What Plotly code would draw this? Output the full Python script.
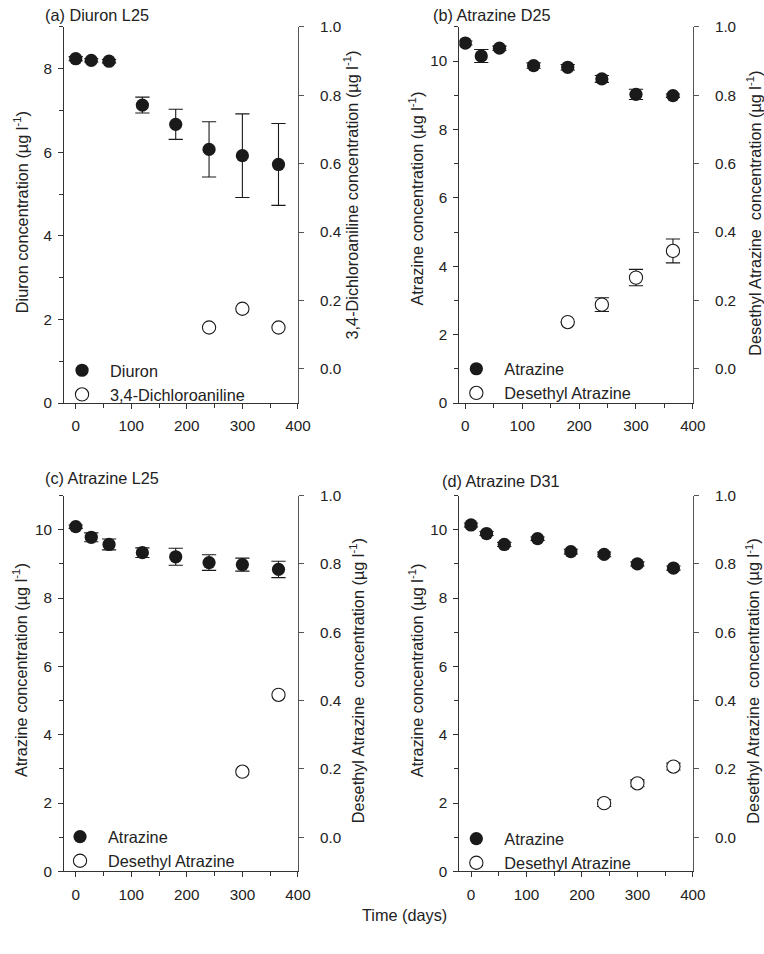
import plotly.graph_objects as go

# The captured picture is the page shrunk by S and shifted down by B,
# so the layout below is placed in picture coordinates and mapped back.
S, B = 0.9825, 8.75
W, H = 778, 954

# ---------------- data ----------------
days = [0, 28, 60, 120, 180, 240, 300, 365]

diuron = [8.24, 8.20, 8.18, 7.13, 6.67, 6.07, 5.92, 5.71]
diuron_err = [0.05, 0.04, 0.04, 0.19, 0.36, 0.66, 1.00, 0.98]
dca_days = [240, 300, 365]
dca = [0.121, 0.176, 0.121]

atr_d25 = [10.53, 10.15, 10.38, 9.87, 9.82, 9.48, 9.03, 8.99]
atr_d25_err = [0.06, 0.19, 0.06, 0.08, 0.08, 0.10, 0.15, 0.05]
dea_d25_days = [180, 240, 300, 365]
dea_d25 = [0.137, 0.188, 0.267, 0.345]
dea_d25_err = [0.0, 0.02, 0.024, 0.035]

atr_l25 = [10.09, 9.78, 9.57, 9.33, 9.21, 9.04, 8.98, 8.84]
atr_l25_err = [0.05, 0.13, 0.16, 0.14, 0.25, 0.23, 0.19, 0.24]
dea_l25_days = [300, 365]
dea_l25 = [0.192, 0.417]

atr_d31 = [10.14, 9.89, 9.57, 9.74, 9.36, 9.28, 9.00, 8.88]
atr_d31_err = [0.06, 0.06, 0.06, 0.05, 0.07, 0.07, 0.06, 0.06]
dea_d31_days = [240, 300, 365]
dea_d31 = [0.100, 0.158, 0.207]
dea_d31_err = [0.01, 0.01, 0.01]

FONT = "Liberation Sans, Arial, sans-serif"
INK = "#1a1a1a"
K = 1 / S  # size compensation


def px(x):
    return (x / S) / W


def py(y):
    return 1 - ((y - B) / S) / H


fig = go.Figure()

panels = [
    dict(x="x", yl="y", yr="y2", leg="legend", main=diuron, err=diuron_err, main_name="Diuron",
         sd=dca_days, sv=dca, se=None, sec_name="3,4-Dichloroaniline"),
    dict(x="x2", yl="y3", yr="y4", leg="legend2", main=atr_d25, err=atr_d25_err, main_name="Atrazine",
         sd=dea_d25_days, sv=dea_d25, se=dea_d25_err, sec_name="Desethyl Atrazine"),
    dict(x="x3", yl="y5", yr="y6", leg="legend3", main=atr_l25, err=atr_l25_err, main_name="Atrazine",
         sd=dea_l25_days, sv=dea_l25, se=None, sec_name="Desethyl Atrazine"),
    dict(x="x4", yl="y7", yr="y8", leg="legend4", main=atr_d31, err=atr_d31_err, main_name="Atrazine",
         sd=dea_d31_days, sv=dea_d31, se=dea_d31_err, sec_name="Desethyl Atrazine"),
]

for p in panels:
    fig.add_trace(go.Scatter(
        x=days, y=p["main"], xaxis=p["x"], yaxis=p["yl"], mode="markers", name=p["main_name"],
        legend=p["leg"],
        marker=dict(size=13 * K, color=INK, line=dict(width=0)),
        error_y=dict(type="data", array=p["err"], visible=True, color=INK, thickness=1.1, width=7 * K),
    ))
    ey = dict(type="data", array=p["se"], visible=True, color=INK, thickness=1.1, width=7 * K) if p["se"] else None
    fig.add_trace(go.Scatter(
        x=p["sd"], y=p["sv"], xaxis=p["x"], yaxis=p["yr"], mode="markers", name=p["sec_name"],
        legend=p["leg"],
        marker=dict(size=13 * K, color="white", line=dict(width=1.1, color=INK)),
        error_y=ey,
    ))

xd_left = [px(64), px(297.7)]
xd_right = [px(459), px(692.3)]
yd_top = [py(403), py(26.7)]
yd_bot = [py(871.5), py(495.5)]

tickfont = dict(family=FONT, size=15 * K, color="#222")


def xax(domain, anchor, rng):
    return dict(domain=domain, anchor=anchor, range=rng, showline=True, linecolor="#333", linewidth=1,
                ticks="outside", ticklen=5, tickcolor="#333", tickwidth=1, dtick=100, tick0=0,
                minor=dict(dtick=50, ticks="outside", ticklen=4, tickcolor="#333"),
                showgrid=False, zeroline=False, tickfont=tickfont, ticklabelstandoff=4)


def xtop(overlay, anchor, rng):
    return dict(overlaying=overlay, anchor=anchor, side="top", range=rng, showline=True, linecolor="#333",
                linewidth=1, ticks="inside", ticklen=4, tickcolor="#333", tickvals=[50, 150, 250, 350],
                showticklabels=False, showgrid=False, zeroline=False)


def yleft(domain, anchor, top):
    return dict(domain=domain, anchor=anchor, range=[0, top], showline=True, linecolor="#333", linewidth=1,
                ticks="outside", ticklen=5, tickcolor="#333", dtick=2, tick0=0,
                minor=dict(dtick=1, ticks="outside", ticklen=4, tickcolor="#333"),
                showgrid=False, zeroline=False, tickfont=tickfont, ticklabelstandoff=3)


def yright(overlay, anchor):
    return dict(overlaying=overlay, anchor=anchor, side="right", range=[-0.1, 1.0], showline=True,
                linecolor="#555", linewidth=1, ticks="outside", ticklen=5, tickcolor="#555",
                tickvals=[0, 0.2, 0.4, 0.6, 0.8, 1.0], tickformat=".1f",
                showgrid=False, zeroline=False, tickfont=tickfont, ticklabelstandoff=13)


fig.update_layout(
    width=W, height=H, margin=dict(l=0, r=0, t=0, b=0),
    paper_bgcolor="white", plot_bgcolor="white",
    font=dict(family=FONT, size=15 * K, color="#222"),
    xaxis=xax(xd_left, "y", [-21, 400]),
    xaxis2=xax(xd_right, "y3", [-10.5, 400]),
    xaxis3=xax(xd_left, "y5", [-21, 400]),
    xaxis4=xax(xd_right, "y7", [-21, 400]),
    xaxis5=xtop("x", "y", [-21, 400]),
    xaxis6=xtop("x2", "y3", [-10.5, 400]),
    xaxis7=xtop("x3", "y5", [-21, 400]),
    xaxis8=xtop("x4", "y7", [-21, 400]),
    yaxis=yleft(yd_top, "x", 9),
    yaxis2=yright("y", "x"),
    yaxis3=yleft(yd_top, "x2", 11),
    yaxis4=yright("y3", "x2"),
    yaxis5=yleft(yd_bot, "x3", 11),
    yaxis6=yright("y5", "x3"),
    yaxis7=yleft(yd_bot, "x4", 11),
    yaxis8=yright("y7", "x4"),
    showlegend=True,
)

leg_common = dict(bgcolor="rgba(0,0,0,0)", font=dict(family=FONT, size=16 * K, color="#222"),
                  itemwidth=46, xanchor="left", yanchor="top", tracegroupgap=0,
                  itemclick=False, itemdoubleclick=False)


def legend_at(marker_x, mid_y):
    """marker_x / mid_y in picture px -> legend box anchor in paper units"""
    xp = marker_x / S - 27.5
    top = (mid_y - B) / S - 30
    return dict(x=xp / W, y=1 - top / H, **leg_common)


fig.update_layout(
    legend=legend_at(81, 382.5),
    legend2=legend_at(475, 381),
    legend3=legend_at(79, 849),
    legend4=legend_at(475, 851),
)

ann = []


def text(x, y, t, angle=0, xanchor="center", size=16):
    ann.append(dict(x=px(x), y=py(y), xref="paper", yref="paper", text=t, showarrow=False,
                    textangle=angle, xanchor=xanchor, yanchor="middle",
                    font=dict(family=FONT, size=size * K, color="#222")))


# panel titles
text(42.5, 15, "(a) Diuron L25", xanchor="left")
text(431, 15, "(b) Atrazine D25", xanchor="left")
text(43, 478, "(c) Atrazine L25", xanchor="left")
text(439.5, 481, "(d) Atrazine D31", xanchor="left")

# axis titles
text(21, 212, "Diuron concentration (µg l<sup>-1</sup>)", angle=-90)
text(351, 195, "3,4-Dichloroaniline concentration (µg l<sup>-1</sup>)", angle=-90)
text(416, 198, "Atrazine concentration (µg l<sup>-1</sup>)", angle=-90)
text(754, 213, "Desethyl Atrazine  concentration (µg l<sup>-1</sup>)", angle=-90)
text(20, 670, "Atrazine concentration (µg l<sup>-1</sup>)", angle=-90)
text(357, 681, "Desethyl Atrazine  concentration (µg l<sup>-1</sup>)", angle=-90)
text(416, 670, "Atrazine concentration (µg l<sup>-1</sup>)", angle=-90)
text(752, 681, "Desethyl Atrazine  concentration (µg l<sup>-1</sup>)", angle=-90)

text(404, 915, "Time (days)")

fig.update_layout(annotations=ann)

fig.write_html("out.html", config={"displayModeBar": False},
               post_script="document.body.style.margin='0';")
